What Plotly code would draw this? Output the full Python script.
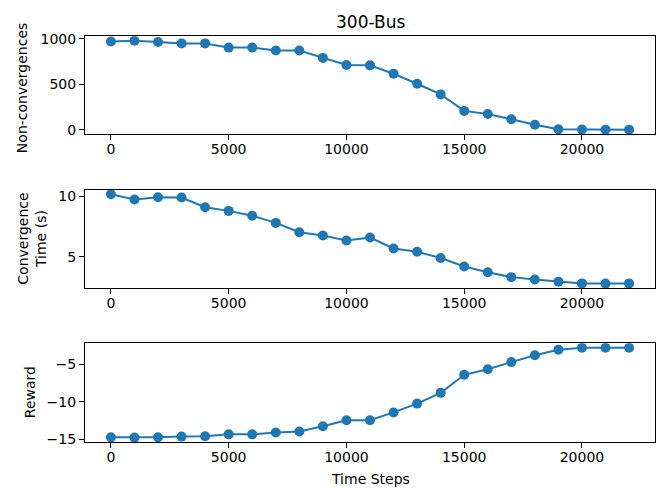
import plotly.graph_objects as go
from plotly.subplots import make_subplots

time_steps = list(range(0, 23000, 1000))
non_convergences = [971, 979, 965, 950, 950, 904, 904, 872, 872, 791, 713, 709,
                    617, 507, 390, 209, 174, 117, 57, 7, 4, 3, 3]
convergence_time = [10.19, 9.76, 9.95, 9.92, 9.11, 8.81, 8.41, 7.81, 7.03, 6.76,
                    6.35, 6.59, 5.68, 5.41, 4.89, 4.19, 3.70, 3.30, 3.11, 2.92,
                    2.78, 2.76, 2.78]
reward = [-14.74, -14.78, -14.74, -14.65, -14.61, -14.35, -14.35, -14.09, -13.96,
          -13.26, -12.48, -12.48, -11.43, -10.26, -8.83, -6.43, -5.70, -4.74,
          -3.83, -3.09, -2.84, -2.84, -2.84]

title = "300-Bus"
x_label = "Time Steps"
y_labels = ["Non-convergences", "Convergence<br>Time (s)", "Reward"]
x_ticks = [0, 5000, 10000, 15000, 20000]
y_ticks = [[0, 500, 1000], [5, 10], [-15, -10, -5]]

W, H = 664, 495
color = "#1f77b4"
font = "DejaVu Sans"

fig = make_subplots(rows=3, cols=1)
series = [non_convergences, convergence_time, reward]

def padded(vals):
    lo, hi = min(vals), max(vals)
    s = hi - lo
    return [lo - 0.05 * s, hi + 0.05 * s]

# pixel layout of axes boxes (top, bottom)
boxes = [(31, 131), (188, 288.5), (345, 446)]
xl, xr = 85, 655

for i, ys in enumerate(series):
    fig.add_trace(go.Scatter(x=time_steps, y=ys, mode="lines+markers",
                             line=dict(color=color, width=2),
                             marker=dict(color=color, size=10),
                             showlegend=False), row=i + 1, col=1)
    ax = "" if i == 0 else str(i + 1)
    top, bot = boxes[i]
    fig.layout["xaxis" + ax].update(
        domain=[xl / W, xr / W], range=padded(time_steps),
        tickvals=x_ticks, tickformat="d", ticks="outside", ticklen=5, tickwidth=1.1,
        tickcolor="black", showline=True, linecolor="black", linewidth=1.1,
        mirror=True, showgrid=False, zeroline=False, ticklabelstandoff=-3,
        tickfont=dict(family=font, size=14, color="black"))
    fig.layout["yaxis" + ax].update(
        domain=[1 - bot / H, 1 - top / H], range=padded(ys),
        tickvals=y_ticks[i], tickformat="d", ticks="outside", ticklen=5, tickwidth=1.1,
        tickcolor="black", showline=True, linecolor="black", linewidth=1.1,
        mirror=True, showgrid=False, zeroline=False,
        tickfont=dict(family=font, size=14, color="black"))

annots = [
    dict(text=y_labels[0], x=22 / W, y=1 - 84 / H, textangle=-90),
    dict(text=y_labels[1], x=32 / W, y=1 - 238 / H, textangle=-90),
    dict(text=y_labels[2], x=30 / W, y=1 - 395 / H, textangle=-90),
    dict(text=x_label, x=370 / W, y=1 - 484 / H, textangle=0),
]
for a in annots:
    fig.add_annotation(xref="paper", yref="paper", showarrow=False,
                       xanchor="center", yanchor="middle",
                       font=dict(family=font, size=14, color="black"), **a)

fig.add_annotation(text=title, xref="paper", yref="paper", x=370 / W, y=1 - 16 / H,
                   showarrow=False, xanchor="center", yanchor="middle",
                   font=dict(family=font, size=17, color="black"))

fig.update_layout(width=W, height=H, margin=dict(l=0, r=0, t=0, b=0),
                  plot_bgcolor="white", paper_bgcolor="white")

fig.write_html("out.html")
